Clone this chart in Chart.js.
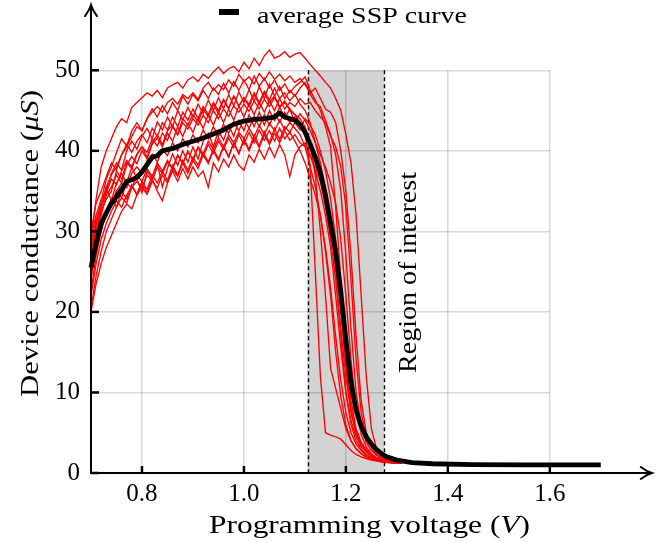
<!DOCTYPE html>
<html><head><meta charset="utf-8">
<script src="https://cdn.jsdelivr.net/npm/chart.js@4.4.0/dist/chart.umd.min.js"></script>
<style>html,body{margin:0;padding:0;background:#fff;} #wrap{width:672px;height:542px;position:relative;}</style>
</head><body><div id="wrap"><canvas id="c" width="672" height="542"></canvas></div>
<script>
// ---- data ----
const voltage = [0.70,0.71,0.72,0.73,0.74,0.75,0.76,0.77,0.78,0.79,
  0.80,0.81,0.82,0.83,0.84,0.85,0.86,0.87,0.88,0.89,
  0.90,0.91,0.92,0.93,0.94,0.95,0.96,0.97,0.98,0.99,
  1.00,1.01,1.02,1.03,1.04,1.05,1.06,1.07,1.08,1.09,
  1.10,1.11,1.12,1.13,1.14,1.15,1.16,1.17,1.18,1.19,
  1.20,1.21,1.22,1.23,1.24,1.25,1.26,1.27,1.28,1.29,1.30,1.31];

const device1 = [29,34,38,40,41.5,43,44,43.5,45.4,46, 46.6,47.2,46.8,47.5,46.6,47.8,48.2,48.5,47.8,48.8, 49.2,48.6,49.5,49,49.8,50.4,49.6,50.2,50.5,49.8, 51,50.2,51.5,50.6,51.8,52.5,51.5,51.8,52.3,51.6, 52,52.2,51.5,50.7,50,49.3,48.5,47.8,46.5,45, 42,38.5,32,22,12,5.5,3,2,1.6,1.4,1.3,1.2];
const device2 = [27,30,33,35.5,37,38,39.5,40.5,41.8,43, 42.5,44,44.8,45.5,44.8,46,46.5,45.8,47,46.5, 47.2,46.4,47.8,48.5,47.5,48.2,47.6,48.8,48,49.5, 48.6,49.2,48.3,49.6,48.8,49.8,48.9,49.5,48.7,49.3, 48.5,49,48.2,47.2,47.8,46.5,45.2,44.8,43.5,40, 35,27,17,9,5,3.2,2.3,1.8,1.5,1.35,1.25,1.2];
const device3 = [25,29,32.5,34,35,37.5,36.5,38.5,37.8,39.5, 40.5,39.2,41,42,40.8,42.5,43.2,42,44,43.2, 44.5,43.6,45.2,44.2,45.8,44.6,46.3,45.2,46.8,45.5, 46.6,45.8,47.2,46,47.4,46.3,47.8,46.5,47.2,46.2, 47,45.8,45,43.5,41,38.5,35,31,25,17, 10,6,4,3,2.3,1.9,1.6,1.45,1.35,1.28,1.22,1.2];
const device4 = [20.5,24.5,27.5,30,31.5,33,34.2,33.5,35.5,36.2, 35.4,37,36.3,38,37.2,38.6,37.8,39.4,38.5,39.8, 39,40.5,39.6,41.2,40.2,41.6,40.5,42,41,42.3, 41.5,42.8,41.7,43.2,42,43.4,42.5,43.8,42.6,43.5, 42.8,42,40.5,38,35.5,32,27.5,22,15,9.5, 6,4,3,2.4,2,1.7,1.5,1.4,1.3,1.25,1.2,1.2];
const device5 = [28,31,33,34.8,36.5,35.8,37.5,38.8,38,39.6, 40.5,39.8,41.5,40.6,42.2,41.3,43,42,43.5,42.7, 44,43.2,44.4,43.5,45,44,45.2,44.3,45.6,44.8, 45.8,44.9,46.2,45.2,46.4,45.5,46.6,45.4,46,45.2, 44.5,43.5,42,38,25,12,5,4.7,4.5,4.2, 3.5,2.8,2.3,2,1.8,1.6,1.5,1.4,1.32,1.26,1.22,1.2];
const device6 = [30,33.5,35,36.8,38.5,37.6,39.5,40.8,39.8,41.2, 42,41,42.8,41.8,43.5,42.6,44.2,43,44.8,43.8, 45.2,44,45.5,44.5,46,45,46.4,45.3,46.8,45.6, 46.6,45.5,47,45.8,47.2,46,46.8,45.5,46.2,45, 44.5,44,43,41,37,30,22,13,10.5,8, 5.5,4,3,2.4,2,1.7,1.55,1.45,1.35,1.28,1.23,1.2];
const device7 = [22,26,29,31,32.5,33.8,33,34.5,35.6,34.6, 36.2,35.2,37,36,37.5,36.3,38.2,37,38.8,37.6, 39.2,38.2,39.8,38.6,40.2,39,40.6,39.3,41,39.8, 41.3,40,41.6,40.4,42,40.8,42.2,41,42.5,41.3, 42,41,40.5,39.5,38,36.2,33,29,24,18, 12,7.5,5,3.6,2.8,2.2,1.9,1.6,1.45,1.35,1.28,1.22];
const device8 = [26,29.5,31,32.5,34,33,35,34,35.8,34.5, 36,34.8,36.5,35,33.8,36,37.5,36.2,37.8,36.5, 38,36.8,37.5,35.5,38.5,37.4,39,38,39.5,38.2, 37.6,39.5,38.6,40.2,39,40.5,39.2,40.8,39.5,36.8, 39.5,40.5,41,39.5,37.5,35,32,28,22,15.5, 10,6.5,4.5,3.3,2.6,2.1,1.8,1.55,1.4,1.3,1.25,1.2];
const device9 = [29.5,32,34,35,37.2,38.5,37.6,40,41.2,40.2, 41.8,42.8,41.5,43.6,42.6,44.2,43,45,43.8,45.4, 44.2,45.8,44.6,46.3,45,46.6,45.2,47,45.6,47.3, 46,47.6,46.2,48,46.5,48.3,46.8,48,46.5,47.5, 46.8,47.8,48.5,47,46,45.5,43.8,42,39.5,35, 27,18,10,6,3.8,2.8,2.2,1.8,1.55,1.4,1.3,1.22];
const device10 = [27.5,31,33.8,36.5,38,39.8,41.5,40.6,42.5,43.5, 42.5,44,45.2,44.2,45.6,44.6,46,45,46.8,45.8, 47,46.2,47.5,46.5,47.8,47,48.4,47.2,48.6,47.5, 48.8,47.6,49.3,48,49,47.8,48.8,47.5,48.3,47.2, 48,48.5,49.2,47.5,46.3,45,43,40.5,33,24, 15,9,5.5,3.8,2.9,2.3,1.9,1.65,1.5,1.38,1.3,1.22];
const device11 = [24,28,30.5,32,33.5,35,34.2,36,35.4,37, 36.2,37.8,36.8,38.5,37.5,38.8,37.8,39.5,38.4,40, 38.8,40.4,39.3,40.8,39.7,41.2,40.2,41.6,40.4,42, 40.8,42.3,41,42.6,41.3,42.5,41.2,42.8,41.5,42.3, 41.2,40,38.5,36.5,34.5,32,28,23,17,11.5, 7.5,5,3.6,2.8,2.2,1.9,1.65,1.5,1.38,1.3,1.24,1.2];
const device12 = [26.5,30.5,32,34.5,35.5,37,36,38.2,39.3,38.4, 40,39,40.8,41.6,40.5,42.2,41.2,43,41.8,43.4, 42.3,44,42.8,44.5,43.2,44.8,43.5,45.2,43.8,45.6, 44.2,45.8,44.5,46,44.8,46.2,45,46.5,45.2,46, 45.5,46.5,45.8,46,45,44.2,43.5,41.8,40.5,38, 33,24,14,7.5,4.5,3.2,2.4,1.9,1.6,1.42,1.3,1.22];
const device13 = [22.5,27,30,32.2,33.2,35,36,35.4,37.2,38, 37.2,38.8,39.6,38.6,40.2,39.4,41,40,41.5,40.5, 42,41,42.6,41.5,43,41.8,43.3,42.2,43.6,42.5, 44,42.8,44.3,43,44.5,43.2,44.6,43.6,44.8,43.5, 44.2,43,42.2,41,39.5,37,34,30.5,26,20, 13,8,5,3.5,2.7,2.1,1.8,1.6,1.45,1.35,1.27,1.2];
const device14 = [20,23.5,26,28,29.5,31,32.5,33.4,32.8,34.5, 35.5,34.6,36.2,35.4,37,36,37.8,36.8,38.5,37.2, 38.8,37.8,39.5,38.4,40,38.8,40.5,39.2,41,39.6, 41.5,40.2,42,40.6,42.4,41,42.8,41.4,43,42.3, 43.5,42.6,44,43.2,42,40,37.5,34,29,21, 13.5,8,5,3.6,2.8,2.2,1.85,1.6,1.45,1.35,1.27,1.2];
const device15 = [28.5,31.5,33,35.5,33.8,36,37.2,36,38,36.5, 34.8,37.5,36.5,38.5,35.5,37.8,39.6,38.2,40,38.6, 40.5,39,41.2,42.2,40.5,42.5,41.3,43.2,41.8,43.8, 42.5,44.5,43,44.8,43.2,45,43.8,45.5,44,45.2, 43.5,44.6,43.8,42.5,41,39.5,38,36,33.5,29, 22,14,8,4.8,3.2,2.4,1.9,1.6,1.45,1.35,1.27,1.2];

const avgVoltage = [0.70,0.71,0.72,0.73,0.74,0.75,0.76,0.77,0.78,0.79,0.80,0.81,0.82,0.83,0.84,0.86,0.88,0.90,0.92,0.94,0.96,0.98,1.00,1.02,1.04,1.06,1.07,1.08,1.10,1.11,1.12,1.13,1.14,1.15,1.16,1.17,1.18,1.19,1.20,1.21,1.22,1.23,1.24,1.25,1.26,1.27,1.28,1.30,1.33,1.37,1.45,1.55,1.70];
const avgConductance = [25.5,28.5,31,32.3,33.5,34.3,35.2,36.2,36.4,36.7,37.4,38.3,39.2,39.4,40.0,40.3,40.8,41.2,41.6,42.1,42.6,43.3,43.7,43.9,44.0,44.2,44.7,44.2,43.8,43.3,42.3,40.8,39.2,37.3,34.5,31,27.5,22.5,16.5,11.2,7.8,5.8,4.5,3.6,2.9,2.4,2.0,1.6,1.3,1.15,1.05,1.0,1.0];

const xTicks = [0.8, 1.0, 1.2, 1.4, 1.6];
const yTicks = [0, 10, 20, 30, 40, 50];
const xTickLabels = ["0.8", "1.0", "1.2", "1.4", "1.6"];
const regionStart = 1.125, regionEnd = 1.275;
const xAxisEnd = 1.8, yAxisEnd = 58.1;

const redCurves = [device1,device2,device3,device4,device5,device6,device7,device8,device9,device10,device11,device12,device13,device14,device15];

// ---- chart ----
const SERIF = '"Liberation Serif", "Times New Roman", serif';
function pts(xs, ys){ return xs.map((x,i)=>({x:x, y:ys[i]})); }

const datasets = [{
  label: 'average SSP curve',
  data: pts(avgVoltage, avgConductance),
  borderColor: '#000', borderWidth: 4.8, pointRadius: 0, tension: 0,
  order: 0, clip: false, borderJoinStyle: 'round', borderCapStyle: 'butt'
}];
redCurves.forEach((c, k) => datasets.push({
  label: 'device ' + (k+1), data: pts(voltage, c),
  borderColor: '#ff0000', borderWidth: 1.35, pointRadius: 0, tension: 0,
  order: 1, clip: false
}));

function richText(ctx, parts, x, y, size, targetW, align){
  ctx.save();
  let total = 0;
  const ws = parts.map(p => { ctx.font = (p[1]?'italic ':'') + size + 'px ' + SERIF; const w = ctx.measureText(p[0]).width; total += w; return w; });
  const s = targetW ? targetW / total : 1;
  ctx.translate(x, y);
  ctx.scale(s, 1);
  let cx = align === 'center' ? -total/2 : 0;
  ctx.textAlign = 'left';
  parts.forEach((p,i) => { ctx.font = (p[1]?'italic ':'') + size + 'px ' + SERIF; ctx.fillText(p[0], cx, 0); cx += ws[i]; });
  ctx.restore();
}

const decor = {
  id: 'decor',
  beforeDraw(chart){
    const {ctx, scales:{x, y}} = chart;
    ctx.save();
    ctx.fillStyle = '#d3d3d3';
    const l = x.getPixelForValue(regionStart), r = x.getPixelForValue(regionEnd);
    const t = y.getPixelForValue(50), b = y.getPixelForValue(0);
    ctx.fillRect(l, t, r-l, b-t);
    ctx.restore();
  },
  beforeDatasetsDraw(chart){
    const {ctx, scales:{x, y}} = chart;
    ctx.save();
    ctx.strokeStyle = '#000'; ctx.lineWidth = 1.4; ctx.setLineDash([4,3]);
    [regionStart, regionEnd].forEach(v => {
      const px = Math.round(x.getPixelForValue(v)) + 0.5;
      ctx.beginPath(); ctx.moveTo(px, y.getPixelForValue(50)); ctx.lineTo(px, y.getPixelForValue(0)); ctx.stroke();
    });
    ctx.restore();
  },
  afterDraw(chart){
    const {ctx, scales:{x, y}} = chart;
    const x0 = x.getPixelForValue(0.7), y0 = y.getPixelForValue(0);
    const xe = x.getPixelForValue(xAxisEnd), ye = y.getPixelForValue(yAxisEnd);
    ctx.save();
    ctx.strokeStyle = '#000'; ctx.lineWidth = 2; ctx.lineCap = 'butt';
    ctx.beginPath(); ctx.moveTo(x0, y0); ctx.lineTo(xe - 1, y0); ctx.stroke();
    ctx.beginPath(); ctx.moveTo(x0, y0 + 1); ctx.lineTo(x0, ye + 1); ctx.stroke();
    ctx.lineWidth = 2; ctx.lineJoin = 'miter'; ctx.lineCap = 'round';
    ctx.beginPath(); ctx.moveTo(xe - 11, y0 - 6); ctx.quadraticCurveTo(xe - 5, y0 - 1.5, xe, y0); ctx.quadraticCurveTo(xe - 5, y0 + 1.5, xe - 11, y0 + 6); ctx.stroke();
    ctx.beginPath(); ctx.moveTo(x0 - 6, ye + 11); ctx.quadraticCurveTo(x0 - 1.5, ye + 5, x0, ye); ctx.quadraticCurveTo(x0 + 1.5, ye + 5, x0 + 6, ye + 11); ctx.stroke();
    ctx.lineWidth = 2.5; ctx.lineCap = 'butt';
    xTicks.forEach(v => { const px = x.getPixelForValue(v); ctx.beginPath(); ctx.moveTo(px, y0); ctx.lineTo(px, y0 - 7); ctx.stroke(); });
    yTicks.forEach(v => { const py = y.getPixelForValue(v); ctx.beginPath(); ctx.moveTo(x0, py); ctx.lineTo(x0 + 8, py); ctx.stroke(); });
    ctx.fillStyle = '#000';
    ctx.textBaseline = 'alphabetic';
    richText(ctx, [['Programming voltage (', false], ['V', true], [')', false]], 369.5, 533, 26, 321, 'center');
    ctx.save(); ctx.translate(38, 243.5); ctx.rotate(-Math.PI/2);
    richText(ctx, [['Device conductance (', false], ['μS', true], [')', false]], 0, 0, 26, 307, 'center');
    ctx.restore();
    ctx.save(); ctx.translate(416, 272.5); ctx.rotate(-Math.PI/2);
    richText(ctx, [['Region of interest', false]], 0, 0, 25, 201, 'center');
    ctx.restore();
    ctx.fillRect(219, 9, 20, 6);
    richText(ctx, [['average SSP curve', false]], 257, 22.5, 23.5, 210, 'left');
    ctx.restore();
  }
};

new Chart(document.getElementById('c'), {
  type: 'line',
  data: { datasets },
  options: {
    responsive: false, animation: false, devicePixelRatio: 1,
    layout: { padding: { left: 0, right: 122.2, top: 70.3, bottom: 0 } },
    plugins: { legend: { display: false }, tooltip: { enabled: false } },
    scales: {
      x: {
        type: 'linear', min: 0.7, max: 1.6,
        afterBuildTicks: s => { s.ticks = xTicks.map(v => ({ value: v })); },
        afterFit: s => { s.height = 69; },
        grid: { color: 'rgba(0,0,0,0.15)', lineWidth: 1.5, drawTicks: false },
        border: { display: false },
        ticks: { color: '#000', font: { family: SERIF, size: 25 }, padding: 6, maxRotation: 0,
                 callback: (v) => xTickLabels[xTicks.indexOf(v)] }
      },
      y: {
        type: 'linear', min: 0, max: 50,
        afterBuildTicks: s => { s.ticks = yTicks.map(v => ({ value: v })); },
        afterFit: s => { s.width = 91; },
        grid: { color: 'rgba(0,0,0,0.15)', lineWidth: 1.5, drawTicks: false },
        border: { display: false },
        ticks: { color: '#000', font: { family: SERIF, size: 25 }, padding: 11 }
      }
    }
  },
  plugins: [decor]
});
</script>
</body></html>
